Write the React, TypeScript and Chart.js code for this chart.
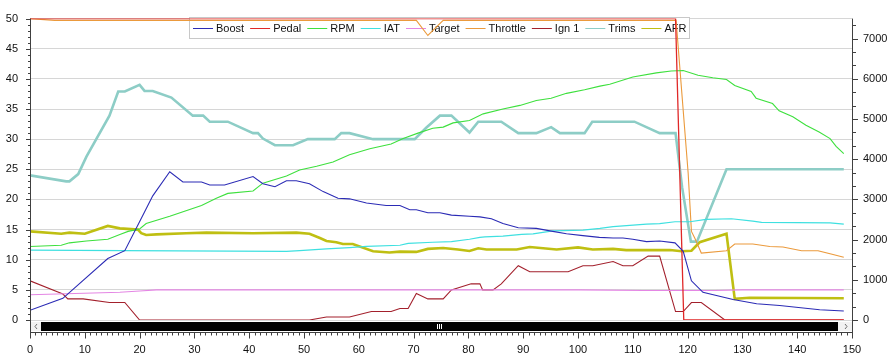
import React, { useEffect, useRef } from "react";
import { Chart, registerables } from "chart.js";

Chart.register(...registerables);

// ---------- tick labels ----------
const xTickValues = [0, 10, 20, 30, 40, 50, 60, 70, 80, 90, 100, 110, 120, 130, 140, 150];
const leftTickValues = [0, 5, 10, 15, 20, 25, 30, 35, 40, 45, 50];
const rightTickValues = [0, 1000, 2000, 3000, 4000, 5000, 6000, 7000];

// ---------- series ----------
const boostX = [0, 6, 14.2, 17.3, 20.9, 22.4, 25.5, 27.9, 31.3, 32.8, 35.5, 40.7, 42.5, 44.7, 46.8, 48.6, 51, 53.5, 56.2, 58.3, 61.4, 65, 67.5, 69.3, 70.5, 72.6, 74.8, 76.9, 80.2, 82.1, 84.2, 86.3, 89.1, 92.4, 95.4, 97.9, 100.9, 103.9, 106.4, 108.2, 110, 112.5, 114.9, 117.7, 119.2, 120.7, 122.8, 128.3, 132.6, 136.8, 144.1, 148.5];
const boostY = [1.6, 3.6, 10.2, 11.5, 17.9, 20.6, 24.6, 22.9, 22.9, 22.4, 22.4, 23.8, 22.6, 22.1, 23.1, 23.1, 22.6, 21.3, 20.2, 20.1, 19.4, 19.0, 19.0, 18.3, 18.3, 17.8, 17.8, 17.4, 17.2, 17.1, 16.8, 16.0, 15.3, 15.2, 14.7, 14.3, 14.0, 13.7, 13.6, 13.6, 13.4, 13.0, 13.1, 12.8, 11.4, 6.5, 4.6, 3.4, 2.7, 2.4, 1.7, 1.5];

const pedalX = [0, 117.8, 119.3, 148.5];
const pedalY = [50, 50, 0, 0];

const rpmX = [0, 5.7, 7.2, 10.3, 14.2, 16.4, 17.9, 20, 21.2, 25.5, 31.3, 34, 36.1, 40.7, 42.5, 46.8, 49.2, 52.3, 55.3, 58.3, 62, 65.9, 68.1, 70.8, 73.5, 75.4, 77.2, 80.2, 82.7, 86.3, 89.4, 92.4, 95.1, 97.9, 101.2, 104, 105.8, 110, 114.3, 117, 119.2, 121.9, 124.6, 127.1, 128.6, 131.6, 132.5, 135.5, 136.7, 139.2, 141.6, 144, 146, 147.1, 148.5];
const rpmY = [1830, 1860, 1920, 1965, 2010, 2130, 2205, 2265, 2400, 2580, 2850, 3030, 3150, 3210, 3405, 3585, 3735, 3825, 3930, 4110, 4260, 4380, 4515, 4650, 4770, 4800, 4905, 4965, 5130, 5250, 5340, 5460, 5520, 5640, 5730, 5820, 5865, 6045, 6150, 6195, 6210, 6090, 6030, 5985, 5835, 5685, 5520, 5385, 5205, 5055, 4845, 4680, 4515, 4320, 4140];

const iatX = [0, 17, 46.8, 49.2, 54.1, 58.3, 61.4, 67.5, 69, 73.5, 76.9, 80.2, 82.1, 83, 86.3, 89.7, 91.8, 95.4, 100.9, 104, 106.4, 112.5, 114.9, 117.7, 120.4, 123.4, 128, 131.9, 133.5, 146, 148.5];
const iatY = [11.6, 11.5, 11.4, 11.5, 11.8, 12.0, 12.2, 12.4, 12.7, 12.9, 13.0, 13.4, 13.7, 13.8, 13.9, 14.2, 14.3, 14.8, 14.9, 15.2, 15.5, 15.9, 16.0, 16.3, 16.3, 16.7, 16.8, 16.4, 16.2, 16.1, 15.9];

const targetX = [0, 16.4, 20, 23.1, 100, 112, 125, 130, 148.5];
const targetY = [4.2, 4.6, 4.8, 5.0, 5.0, 4.9, 4.9, 5.0, 5.0];

const throttleX = [0, 4.5, 70.5, 72.6, 75.4, 117.9, 120.1, 120.7, 121.3, 122.5, 127.1, 128.6, 131.9, 135, 137.4, 140.8, 143.8, 146, 148.5];
const throttleY = [50, 49.7, 49.7, 47.2, 49.7, 49.7, 24.4, 14.7, 13.6, 11.1, 11.5, 12.6, 12.6, 12.2, 12.1, 11.5, 11.5, 11.0, 10.4];

const ignX = [0, 6, 6.9, 9.7, 14.5, 17.3, 20, 51, 54.1, 58.3, 62.3, 65.9, 67.5, 69, 70.5, 72.6, 75.4, 76.9, 80.5, 82.1, 82.6, 84.5, 86, 89.1, 91.2, 98.2, 100.9, 102.7, 106.4, 108.2, 110, 112.8, 114.9, 117.8, 119.2, 120.7, 122.5, 126.8, 148.5];
const ignY = [6.5, 4.3, 3.5, 3.5, 2.9, 2.9, 0, 0, 0.5, 0.5, 1.4, 1.4, 1.9, 1.9, 4.4, 3.5, 3.5, 5.0, 6.0, 6.0, 5.0, 5.0, 6.0, 9.0, 8.0, 8.0, 9.0, 9.0, 9.7, 9.0, 9.0, 10.6, 10.6, 1.4, 1.4, 2.9, 2.9, 0, 0];

const trimsX = [0, 6.6, 7.2, 8.8, 10.3, 14.5, 16.1, 17.3, 20, 20.9, 22.4, 25.8, 29.7, 31.6, 32.8, 36.1, 40.7, 41.6, 42.5, 44.7, 48, 50.7, 55.6, 56.8, 58.3, 62.6, 70.2, 72.3, 74.8, 76.9, 80.2, 81.8, 86, 89.1, 92.4, 95.1, 96.7, 101.2, 102.6, 110.3, 114.9, 117.8, 119, 120.6, 121.7, 127.1, 148.5];
const trimsY = [24.0, 23.0, 23.0, 24.2, 27.1, 33.9, 37.9, 37.9, 39.0, 38.0, 38.0, 36.9, 33.9, 33.9, 32.9, 32.9, 31.0, 31.0, 30.1, 29.0, 29.0, 30.0, 30.0, 31.0, 31.0, 30.0, 30.0, 31.9, 33.9, 33.9, 31.1, 32.9, 32.9, 31.0, 31.0, 32.0, 31.0, 31.0, 32.9, 32.9, 31.0, 31.0, 22.0, 13.0, 13.0, 25.0, 25.0];

const afrX = [0, 5.7, 7.2, 10, 14.2, 16.4, 19.7, 20.3, 21.2, 23.1, 28.5, 32.2, 40.7, 48.6, 51, 52.9, 54.1, 55.9, 57.1, 58.9, 62.6, 65.6, 67.5, 70.5, 72.6, 75.4, 78.1, 80.2, 81.8, 83.3, 88.8, 91.2, 96.1, 100, 102.7, 106.4, 108.8, 116.8, 118.9, 120.7, 122.2, 127.1, 128.6, 131.3, 148.5];
const afrY = [14.7, 14.3, 14.5, 14.3, 15.6, 15.2, 15.0, 14.4, 14.1, 14.2, 14.4, 14.5, 14.4, 14.5, 14.3, 13.6, 13.1, 12.9, 12.6, 12.6, 11.4, 11.2, 11.35, 11.3, 11.8, 11.95, 11.7, 11.45, 11.9, 11.7, 11.7, 12.1, 11.7, 12.05, 11.7, 11.8, 11.6, 11.6, 11.4, 11.5, 12.9, 14.3, 3.5, 3.7, 3.6];

const seriesNames = ["Boost", "Pedal", "RPM", "IAT", "Target", "Throttle", "Ign 1", "Trims", "AFR"];

const FONT_FAMILY = '"Liberation Sans", Arial, sans-serif';

const pts = (xs: number[], ys: number[]) => xs.map((x, i) => ({ x, y: ys[i] }));

const framePlugin = {
  id: "frame",
  beforeDatasetsDraw(chart: any) {
    const ctx = chart.ctx;
    ctx.save();
    const bx = 189.5, by = 17.5, bw = 500, bh = 21;
    ctx.fillStyle = "#ffffff";
    ctx.fillRect(bx, by, bw, bh);
    ctx.strokeStyle = "#c8c8c8";
    ctx.lineWidth = 1;
    ctx.strokeRect(bx, by, bw, bh);
    ctx.font = "11px " + FONT_FAMILY;
    ctx.textBaseline = "middle";
    ctx.textAlign = "left";
    let x = 193;
    const yMid = 28;
    chart.data.datasets.forEach((ds: any) => {
      ctx.strokeStyle = ds.borderColor;
      ctx.lineWidth = 1;
      ctx.beginPath();
      ctx.moveTo(x, yMid + 0.5);
      ctx.lineTo(x + 20, yMid + 0.5);
      ctx.stroke();
      ctx.fillStyle = "#111";
      ctx.fillText(ds.label, x + 23, yMid + 1);
      x += 23 + ctx.measureText(ds.label).width + 6;
    });
    ctx.restore();
  },
  afterDraw(chart: any) {
    const ctx = chart.ctx;
    const { left, right, top, bottom } = chart.chartArea;
    const xs = chart.scales.x;
    const ys = chart.scales.y;
    const y1 = chart.scales.y1;
    const axisY = bottom + 12.5;
    ctx.save();
    // scrollbar
    ctx.fillStyle = "#f2f2f2";
    ctx.fillRect(left, bottom + 2, right - left, 9);
    ctx.fillStyle = "#000000";
    ctx.fillRect(left + 11, bottom + 2, right - left - 25, 9);
    ctx.fillStyle = "#ffffff";
    const gx = Math.round((left + right) / 2) - 4;
    for (let i = 0; i < 3; i++) ctx.fillRect(gx + i * 2, bottom + 4, 1, 5);
    ctx.strokeStyle = "#707070";
    ctx.lineWidth = 1;
    ctx.beginPath();
    ctx.moveTo(left + 7, bottom + 4);
    ctx.lineTo(left + 5, bottom + 6.5);
    ctx.lineTo(left + 7, bottom + 9);
    ctx.moveTo(right - 7, bottom + 4);
    ctx.lineTo(right - 5, bottom + 6.5);
    ctx.lineTo(right - 7, bottom + 9);
    ctx.stroke();

    ctx.strokeStyle = "#404040";
    ctx.lineWidth = 1;
    ctx.beginPath();
    // axis lines
    ctx.moveTo(left + 0.5, top);
    ctx.lineTo(left + 0.5, axisY);
    ctx.moveTo(right + 0.5, top);
    ctx.lineTo(right + 0.5, axisY);
    ctx.moveTo(left, axisY);
    ctx.lineTo(right + 1, axisY);
    // left ticks
    for (let v = 0; v <= 50; v++) {
      const py = Math.round(ys.getPixelForValue(v)) + 0.5;
      const len = v % 5 === 0 ? 4 : 2;
      ctx.moveTo(left - len, py);
      ctx.lineTo(left, py);
    }
    // right ticks
    for (let k = 0; k <= 22; k++) {
      const v = (k * 1000) / 3;
      const py = Math.round(y1.getPixelForValue(v)) + 0.5;
      const len = k % 3 === 0 ? 5 : 3;
      ctx.moveTo(right + 1, py);
      ctx.lineTo(right + 1 + len, py);
    }
    // x ticks
    for (let v = 0; v <= 150; v++) {
      const px = Math.round(xs.getPixelForValue(v)) + 0.5;
      const len = v % 10 === 0 ? 6 : 3;
      ctx.moveTo(px, axisY);
      ctx.lineTo(px, axisY + len);
    }
    ctx.stroke();
    ctx.restore();
  },
};

export default function App() {
  const ref = useRef<HTMLCanvasElement | null>(null);
  useEffect(() => {
    document.body.style.margin = "0";
    const canvas = ref.current;
    if (!canvas) return;
    const font = { family: FONT_FAMILY, size: 11 };
    const plain = (v: any) => String(v);
    const mk = (i: number, xs: number[], ys: number[], color: string, width: number, axis = "y") => ({
      label: seriesNames[i],
      data: pts(xs, ys),
      borderColor: color,
      backgroundColor: color,
      borderWidth: width,
      pointRadius: 0,
      tension: 0,
      fill: false,
      yAxisID: axis,
    });
    const chart = new Chart(canvas, {
      type: "line",
      data: {
        datasets: [
          mk(0, boostX, boostY, "#2b2bb5", 1.1),
          mk(1, pedalX, pedalY, "#e02828", 1.3),
          mk(2, rpmX, rpmY, "#3ee03e", 1.1, "y1"),
          mk(3, iatX, iatY, "#3fe0e0", 1.2),
          mk(4, targetX, targetY, "#e486e4", 1.1),
          mk(5, throttleX, throttleY, "#eb9a3c", 1.1),
          mk(6, ignX, ignY, "#a3202c", 1.1),
          mk(7, trimsX, trimsY, "#8dcdc6", 2.6),
          mk(8, afrX, afrY, "#bfbf12", 2.6),
        ] as any,
      },
      options: {
        animation: false,
        responsive: false,
        maintainAspectRatio: false,
        layout: { padding: { top: 13, left: 0, right: 0, bottom: 0 } },
        plugins: { legend: { display: false }, tooltip: { enabled: false } },
        scales: {
          x: {
            type: "linear",
            min: 0,
            max: 150,
            afterBuildTicks: (s: any) => {
              s.ticks = xTickValues.map((v) => ({ value: v }));
            },
            afterFit: (s: any) => {
              s.height = 42;
            },
            grid: { display: false, drawTicks: false },
            border: { display: false },
            ticks: { padding: 23, font, color: "#111", maxRotation: 0, autoSkip: false, callback: plain },
          },
          y: {
            type: "linear",
            position: "left",
            min: 0,
            max: 50,
            afterBuildTicks: (s: any) => {
              s.ticks = leftTickValues.map((v) => ({ value: v }));
            },
            afterFit: (s: any) => {
              s.width = 30;
            },
            grid: { color: "#d6d6d6", drawTicks: false, lineWidth: 1 },
            border: { display: false },
            ticks: { padding: 12, font, color: "#111", autoSkip: false, callback: plain },
          },
          y1: {
            type: "linear",
            position: "right",
            min: 0,
            max: 7500,
            afterBuildTicks: (s: any) => {
              s.ticks = rightTickValues.map((v) => ({ value: v }));
            },
            afterFit: (s: any) => {
              s.width = 42;
            },
            grid: { display: false, drawTicks: false },
            border: { display: false },
            ticks: { padding: 11, font, color: "#111", autoSkip: false, callback: plain },
          },
        } as any,
      },
      plugins: [framePlugin],
    });
    return () => chart.destroy();
  }, []);
  return <canvas ref={ref} width={894} height={362} style={{ display: "block" }} />;
}
